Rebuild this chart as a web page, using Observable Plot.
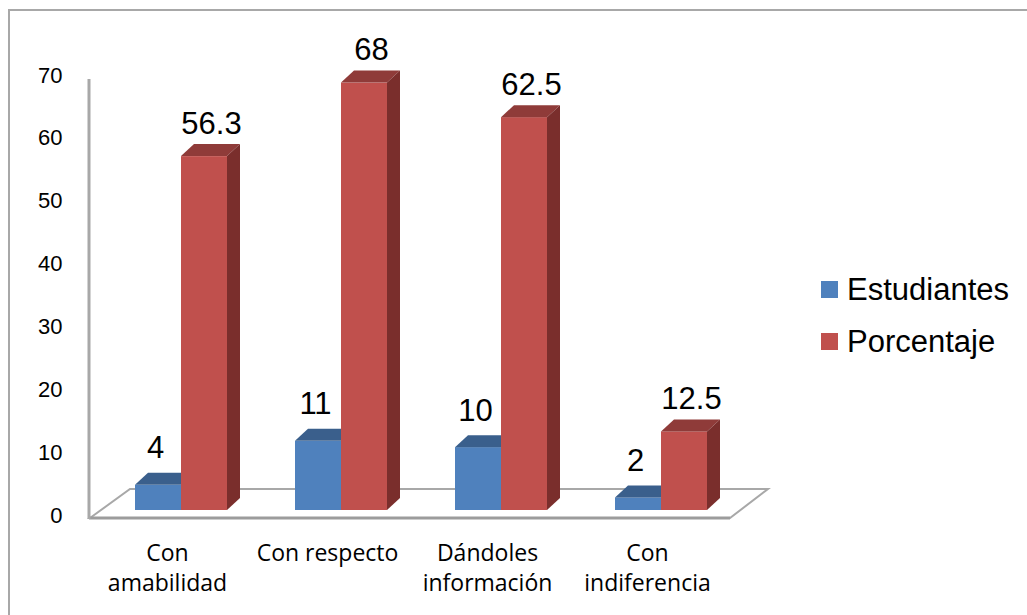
<!DOCTYPE html>
<html>
<head>
<meta charset="utf-8">
<script src="https://cdn.jsdelivr.net/npm/d3@7"></script>
<script src="https://cdn.jsdelivr.net/npm/@observablehq/plot@0.6"></script>
<style>
  body { margin: 0; background: #fff; }
  #wrap { position: relative; width: 1027px; height: 615px; overflow: hidden; background: #fff; }
  #chart { position: absolute; left: 0; top: 0; }
  #frame { position: absolute; left: 8px; top: 9px; width: 1100px; height: 700px;
           border-top: 2px solid #a8a8a8; border-left: 2px solid #a8a8a8; pointer-events: none; }
  #legend { position: absolute; left: 821px; top: 264px; }
  #legend .lg-swatches, #legend .lg-swatches-columns, #legend .lg-swatches-wrap { display: block !important; margin: 0 !important; min-height: 0 !important; }
  #legend .lg-swatch { display: flex !important; align-items: center; height: 51px; margin: 0 !important; width: auto !important;
                       font-family: "Liberation Sans", Arial, sans-serif; font-size: 31px; color: #000; }
  #legend .lg-swatch svg { margin-right: 9px !important; flex: none; }
</style>
</head>
<body>
<div id="wrap">
  <div id="chart"></div>
  <div id="legend"></div>
  <div id="frame"></div>
</div>
<script>
// ---- data ----
const categories = ["Con amabilidad", "Con respecto", "Dándoles información", "Con indiferencia"];
const axisLabels = ["Con\namabilidad", "Con respecto", "Dándoles\ninformación", "Con\nindiferencia"];
const series = ["Estudiantes", "Porcentaje"];
const estudiantes = [4, 11, 10, 2];
const porcentaje = [56.3, 68, 62.5, 12.5];
const yTicks = [0, 10, 20, 30, 40, 50, 60, 70];

// ---- styling ----
const colors = {Estudiantes: "#4f81bd", Porcentaje: "#c0504d"};
const topColors = {Estudiantes: "#3a5f8c", Porcentaje: "#8f3b39"};
const sideColors = {Estudiantes: "#2f4f78", Porcentaje: "#7a2e2c"};

const W = 1027, H = 615, ML = 65.5, MR = 251, MT = 70, MB = 105;
const PAD = 0.4268;
const step = (W - ML - MR) / (categories.length - PAD + 2 * PAD);
const bw = step * (1 - PAD);
const DX = 13, DY = -12;

const rows = series.flatMap((s, k) =>
  categories.map((c, i) => ({category: c, series: s, value: (k === 0 ? estudiantes : porcentaje)[i]}))
);
const estRows = rows.filter(d => d.series === "Estudiantes");
const porRows = rows.filter(d => d.series === "Porcentaje");

function bandw(x) { return typeof x.bandwidth === "function" ? x.bandwidth() : x.bandwidth; }

// 3D floor and back axis line, positioned from the scales
function floor(index, {x, y}) {
  const b = bandw(x);
  const xl = x(categories[0]), xr = x(categories[categories.length - 1]) + b, y0 = y(0);
  const g = d3.create("svg:g");
  g.append("path")
    .attr("d", `M${xl - 45},${y0 + 8}L${xl - 5},${y0 - 21}L${xr + 61},${y0 - 21}L${xr + 23},${y0 + 8}Z`)
    .attr("fill", "none").attr("stroke", "#a8a8a8").attr("stroke-width", 2);
  g.append("path")
    .attr("d", `M${xl - 46},${y0 + 8}H${xr + 23}`)
    .attr("stroke", "#9c9c9c").attr("stroke-width", 3);
  g.append("path")
    .attr("d", `M${xl - 46},${y(70) + 9}V${y0 + 9}`)
    .attr("stroke", "#a8a8a8").attr("stroke-width", 3);
  return g.node();
}

// top (and optional side) faces of the 3D columns
function faces(values, offset, name, withSide) {
  return (index, {x, y}) => {
    const b = bandw(x);
    const g = d3.create("svg:g");
    categories.forEach((c, i) => {
      const x0 = x(c) + offset * b, x1 = x0 + b / 2;
      const yt = y(values[i]), yb = y(0);
      g.append("path")
        .attr("d", `M${x0},${yt}L${x1},${yt}L${x1 + DX},${yt + DY}L${x0 + DX},${yt + DY}Z`)
        .attr("fill", topColors[name]);
      if (withSide) g.append("path")
        .attr("d", `M${x1},${yt}L${x1 + DX},${yt + DY}L${x1 + DX},${yb + DY}L${x1},${yb}Z`)
        .attr("fill", sideColors[name]);
    });
    return g.node();
  };
}

const chart = Plot.plot({
  width: W, height: H,
  marginLeft: ML, marginRight: MR, marginTop: MT, marginBottom: MB,
  style: {fontFamily: "'Liberation Sans', Arial, sans-serif", background: "transparent", color: "#000"},
  x: {type: "band", domain: categories, padding: PAD, axis: null},
  y: {domain: [0, 70], axis: null},
  marks: [
    floor,
    Plot.axisY({ticks: yTicks, tickSize: 0, tickPadding: 3.5, fontSize: 22, dy: 5, label: null, tickFormat: d => String(d)}),
    Plot.barY(estRows, {x: "category", y: "value", fill: colors.Estudiantes, insetRight: bw / 2}),
    faces(estudiantes, 0, "Estudiantes", false),
    Plot.barY(porRows, {x: "category", y: "value", fill: colors.Porcentaje, insetLeft: bw / 2}),
    faces(porcentaje, 0.5, "Porcentaje", true),
    Plot.text(estRows, {x: "category", y: "value", text: d => String(d.value), dx: -26, dy: -27,
      lineAnchor: "bottom", fontSize: 31, fill: "#000"}),
    Plot.text(porRows, {x: "category", y: "value", text: d => String(d.value), dx: 30, dy: -23,
      lineAnchor: "bottom", fontSize: 31, fill: "#000"}),
    Plot.text(categories, {x: d => d, frameAnchor: "bottom", text: (d, i) => axisLabels[i],
      lineAnchor: "top", dy: 29, dx: -14, lineHeight: 1.3, fontSize: 23,
      fontFamily: "'Open Sans', sans-serif", fill: "#000"})
  ]
});
document.getElementById("chart").appendChild(chart);

const legend = Plot.legend({
  color: {type: "ordinal", domain: series, range: series.map(s => colors[s])},
  swatchSize: 17, columns: 1, className: "lg"
});
document.getElementById("legend").appendChild(legend);
</script>
</body>
</html>
